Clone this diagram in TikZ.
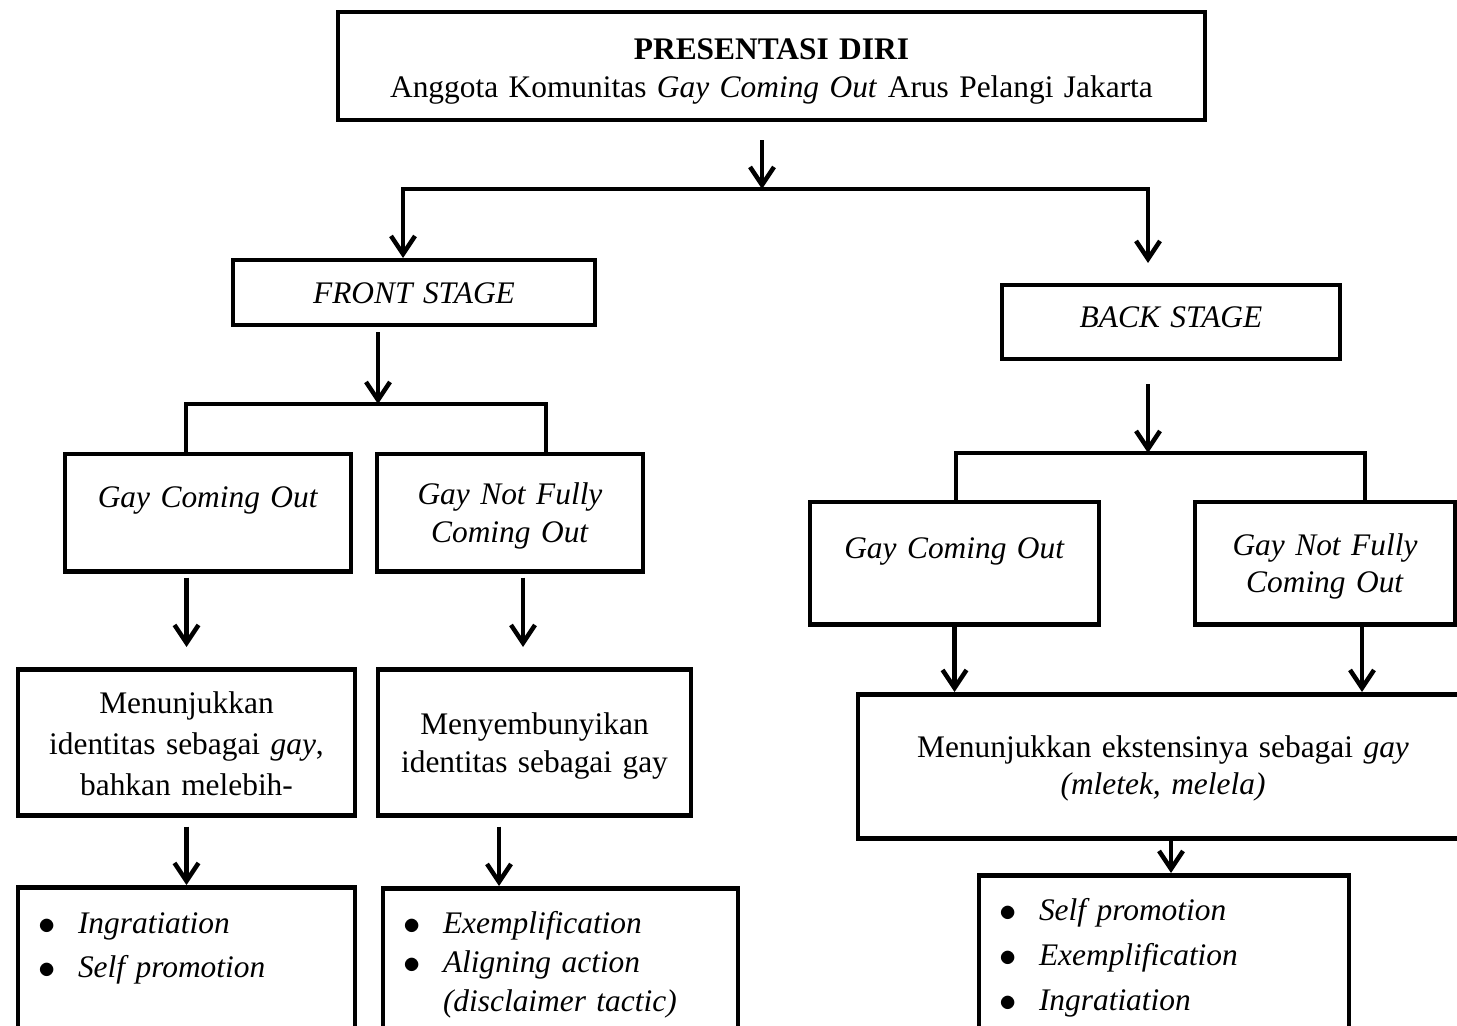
\documentclass[tikz,border=0pt]{standalone}
\usepackage{fontspec}
\setmainfont{Liberation Serif}
\usetikzlibrary{arrows.meta}
\newcommand{\tactic}[1]{\makebox[6.5pt]{\raisebox{-0.8pt}{\fontsize{19}{19}\selectfont$\bullet$}}\hspace{12pt}\textit{#1}}
\tikzset{
  flow box/.style={
    draw, line width=2.25pt, inner sep=0pt, anchor=north,
    text width=#1, align=center,
    font=\fontsize{15.7}{19}\selectfont,
  },
  tactic box/.style={
    flow box=#1, inner xsep=11.5pt, align=left,
  },
  flow line/.style={line width=2.25pt},
  flow arrow/.style={flow line, -{Straight Barb[length=9pt,width=12pt]}},
  fork arrow/.style={flow line, {Straight Barb[length=9pt,width=12pt]}-{Straight Barb[length=9pt,width=12pt]}},
}

\begin{document}
\begin{tikzpicture}[x=0.5pt, y=-0.5pt]
  \fill [white] (0,0) rectangle (1457,1026);
  \useasboundingbox (0,0) rectangle (1457,1026);
  \clip (0,0) rectangle (1457,1026);

  \node [flow box=433.5pt, text height=23.5pt, text depth=30.5pt] (pres) at (771.5,10)
    {\textbf{PRESENTASI DIRI}\\Anggota Komunitas \textit{Gay Coming Out} Arus Pelangi Jakarta};
  \node [flow box=181pt, text height=21.5pt, text depth=11pt] (front) at (414,258) {\textit{FRONT STAGE}};
  \node [flow box=169pt, text height=21pt, text depth=16pt] (back) at (1171,283) {\textit{BACK STAGE}};

  \node [flow box=143pt, text height=26.5pt, text depth=32pt] (fgco) at (208,452) {\textit{Gay Coming Out}};
  \node [flow box=133pt, text height=25pt, text depth=33.5pt] (fgnf) at (510,452) {\textit{Gay Not Fully}\\\textit{Coming Out}};
  \node [flow box=144.5pt, text height=28pt, text depth=33pt] (bgco) at (954.5,500) {\textit{Gay Coming Out}};
  \node [flow box=130pt, text height=26.5pt, text depth=34.5pt, font=\fontsize{15.7}{18.5}\selectfont] (bgnf) at (1325,500) {\textit{Gay Not Fully}\\\textit{Coming Out}};

  \node [flow box=168.5pt, text height=22pt, text depth=51pt, font=\fontsize{15.7}{20.5}\selectfont] (fmen) at (186.5,667)
    {Menunjukkan\\identitas sebagai \textit{gay},\\bahkan melebih-};
  \node [flow box=156.5pt, text height=32.5pt, text depth=40.5pt] (fmeny) at (534.5,667)
    {Menyembunyikan\\identitas sebagai gay};
  \node [flow box=305pt, text height=31.5pt, text depth=40.5pt, font=\fontsize{15.7}{18.5}\selectfont] (bmen) at (1163,692)
    {Menunjukkan ekstensinya sebagai \textit{gay}\\\textit{(mletek, melela)}};

  \node [tactic box=145.5pt, text height=23pt, text depth=48pt, font=\fontsize{15.7}{22}\selectfont] (fbul) at (186.5,885)
    {\tactic{Ingratiation}\\\tactic{Self promotion}};
  \node [tactic box=154.5pt, text height=22.5pt, text depth=48pt, font=\fontsize{15.7}{19.5}\selectfont] (fbul2) at (560.5,886)
    {\tactic{Exemplification}\\\tactic{Aligning action}\\\phantom{\tactic{}}\textit{(disclaimer tactic)}};
  \node [tactic box=162pt, text height=22.5pt, text depth=54.5pt, font=\fontsize{15.7}{22.5}\selectfont] (bbul) at (1164,873)
    {\tactic{Self promotion}\\\tactic{Exemplification}\\\tactic{Ingratiation}};

  \coordinate (fork top) at (762,189);
  \coordinate (fork fl) at (403,189);
  \coordinate (fork fr) at (1148,189);
  \coordinate (fork f) at (378,404);
  \coordinate (fork fa) at (186,404);
  \coordinate (fork fb) at (546,404);
  \coordinate (fork b) at (1148,453);
  \coordinate (fork ba) at (956,453);
  \coordinate (fork bb) at (1365,453);

  \draw [flow arrow, shorten <=9pt] (pres.south -| fork top) -- (fork top);
  \draw [fork arrow, shorten >=10pt] (fork fl |- front.north) -- (fork fl) -- (fork fr) -- (fork fr |- back.north);

  \draw [flow arrow, shorten <=2.5pt] (front.south -| fork f) -- (fork f);
  \draw [flow line] (fork fa |- fgco.north) -- (fork fa) -- (fork fb) -- (fork fb |- fgnf.north);
  \draw [flow arrow, shorten <=11.5pt] (back.south -| fork b) -- (fork b);
  \draw [flow line] (fork ba |- bgco.north) -- (fork ba) -- (fork bb) -- (fork bb |- bgnf.north);

  \draw [flow arrow, shorten <=2pt, shorten >=10pt] (fgco.south -| fmen.north) -- (fmen.north);
  \draw [flow arrow, shorten <=2pt, shorten >=10pt] ([xshift=6.5pt]fgnf.south) -- ([xshift=6.5pt]fgnf.south |- fmeny.north);
  \draw [flow arrow] (bgco.south) -- (bgco.south |- bmen.north);
  \draw [flow arrow] ([xshift=18.5pt]bgnf.south) -- ([xshift=18.5pt]bgnf.south |- bmen.north);

  \draw [flow arrow, shorten <=4.5pt] (fmen.south) -- (fbul.north);
  \draw [flow arrow, shorten <=4.5pt] ([xshift=-17.75pt]fmeny.south) -- ([xshift=-17.75pt]fmeny.south |- fbul2.north);
  \draw [flow arrow] ([xshift=4pt]bmen.south) -- ([xshift=4pt]bmen.south |- bbul.north);
\end{tikzpicture}
\end{document}
